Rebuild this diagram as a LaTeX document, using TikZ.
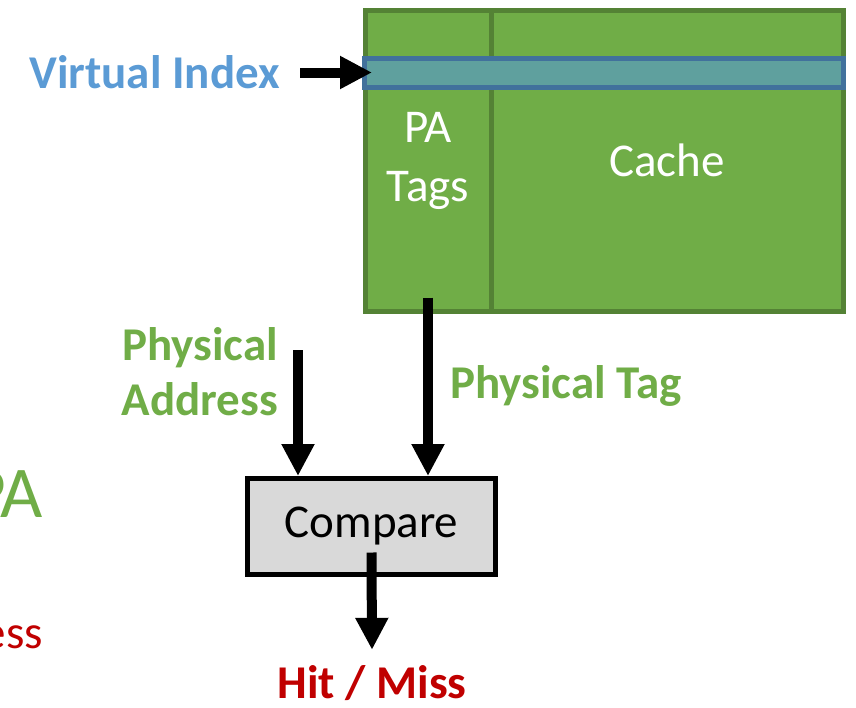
\documentclass[tikz,border=0pt]{standalone}
\usepackage{fontspec}
\setmainfont{Carlito}
\usetikzlibrary{arrows.meta,calc,positioning}
\definecolor{cachegreen}{HTML}{70AD47}
\definecolor{cacheedge}{HTML}{548235}
\definecolor{bandfill}{HTML}{5FA09E}
\definecolor{bandedge}{HTML}{41719C}
\definecolor{indexblue}{HTML}{5B9BD5}
\definecolor{missred}{HTML}{C00000}

\begin{document}
\begin{tikzpicture}[
  x=1pt, y=-1pt,
  every node/.style={inner sep=0pt},
  cachebox/.style={
    draw=cacheedge,
    fill=cachegreen,
    line width=5pt,
    minimum height=301pt,
    text=white,
    align=center,
    font=\fontsize{47}{59}\selectfont
  },
  bandbox/.style={
    draw=bandedge,
    fill=bandfill,
    line width=5pt,
    minimum width=479pt,
    minimum height=29pt
  },
  comparebox/.style={
    draw=black,
    fill=black!15,
    line width=5pt,
    minimum width=248pt,
    minimum height=96pt,
    font=\fontsize{47}{52}\selectfont
  },
  label/.style={font=\bfseries\fontsize{47}{55}\selectfont, text=#1},
  bigarrow/.style={-{Triangle[length=32pt, width=31pt]}, line width=10pt, draw=black}
]
\useasboundingbox (0,0) rectangle (856,707);
\clip (0,0) rectangle (856,707);

% cache array
\node[cachebox, minimum width=126pt] (tags) at (428,160.5) {PA\\Tags};
\node[cachebox, minimum width=352pt] (data) at (667,160.5) {Cache};
\node[bandbox] (vindex) at (604,72.5) {};

\node[comparebox] (compare) at (371.5,526.5) {Compare};

% labels
\node[label=indexblue, anchor=base east] (vilabel) at (280,88) {Virtual Index};
\node[label=cachegreen, anchor=east, align=right] (palabel) at (278,372) {Physical\\Address};
\node[label=cachegreen, anchor=base west] (ptlabel) at (450,398) {Physical Tag};
\node[label=missred, anchor=base] (hitmiss) at (372,698) {Hit / Miss};

% cut off at the left edge
\node[anchor=base east, text=cachegreen, font=\fontsize{73}{80}\selectfont] (pabig) at (43,517) {PA};
\node[anchor=base east, text=missred, font=\fontsize{47}{50}\selectfont] (ess) at (43,648) {ess};

\coordinate (pastart) at (298,350);

\draw[bigarrow] ($(vindex.west)+(-62,0)$) -- ($(vindex.west)+(10,0)$);
\draw[bigarrow] (pastart) -- (pastart |- compare.north);
\draw[bigarrow] ($(tags.south)+(0,-16)$) -- (tags.south |- compare.north);
\draw[bigarrow] ($(compare.center)+(0,26)$) -- ($(hitmiss.north)+(0,-15)$);
\end{tikzpicture}
\end{document}
